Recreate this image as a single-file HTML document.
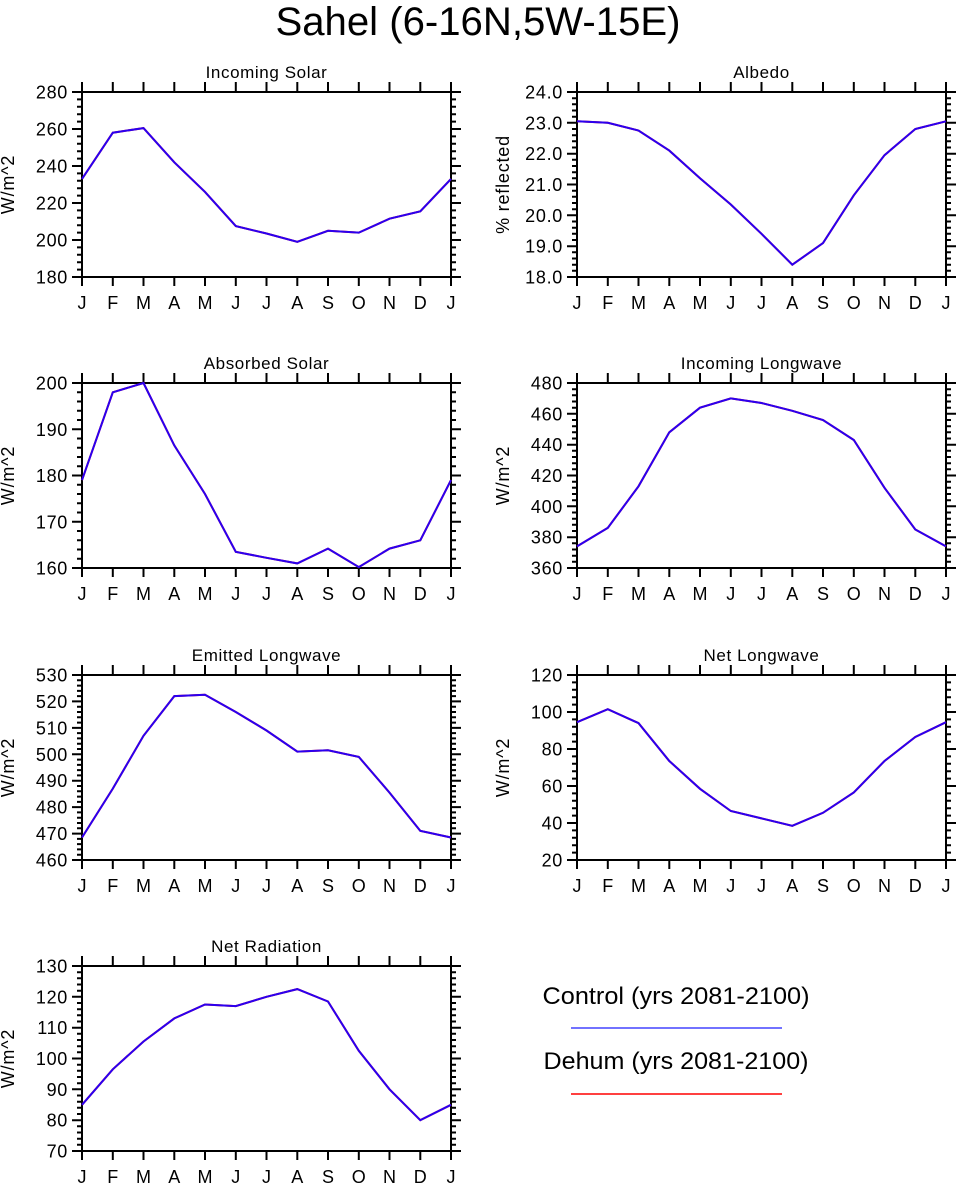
<!DOCTYPE html>
<html><head><meta charset="utf-8"><style>
html,body{margin:0;padding:0;background:#fff}
svg{display:block;font-family:"Liberation Sans",Arial,sans-serif}
</style></head><body>
<svg id="chart" width="957" height="1187" viewBox="0 0 957 1187" xmlns="http://www.w3.org/2000/svg">
<text x="478" y="35" font-size="40" text-anchor="middle" textLength="405" lengthAdjust="spacingAndGlyphs">Sahel (6-16N,5W-15E)</text>
<g>
<text x="676" y="1004" font-size="24" text-anchor="middle" textLength="267" lengthAdjust="spacingAndGlyphs">Control (yrs 2081-2100)</text>
<line x1="571" y1="1028" x2="782" y2="1028" stroke="#4444ff" stroke-width="1.5"/>
<text x="676" y="1069" font-size="24" text-anchor="middle" textLength="265" lengthAdjust="spacingAndGlyphs">Dehum (yrs 2081-2100)</text>
<line x1="571" y1="1094" x2="782" y2="1094" stroke="#ff0000" stroke-width="1.5"/>
</g>
</svg>
<script>
const months = ["J","F","M","A","M","J","J","A","S","O","N","D","J"];
const incomingSolar = [233,258,260.5,242,226,207.5,203.5,199,205,204,211.5,215.5,233];
const albedo = [23.05,23.0,22.75,22.1,21.2,20.35,19.4,18.4,19.1,20.65,21.95,22.8,23.05];
const absorbedSolar = [179,198,200,186.5,176,163.5,162.2,161,164.2,160.2,164.2,166,179];
const incomingLW = [374,386,413,448,464,470,467,462,456,443,412,385,374];
const emittedLW = [468.5,487,507,522,522.5,516,509,501,501.5,499,485.5,471,468.5];
const netLW = [94.5,101.5,94,73.5,58.5,46.5,42.5,38.5,45.5,56.5,73.5,86.5,94.5];
const netRad = [85,96.5,105.5,113,117.5,117,120,122.5,118.5,102.5,90,80,85];

const panels = [
 {name:"incoming-solar",title:"Incoming Solar",ylab:"W/m^2",data:incomingSolar,min:180,max:280,step:20,minor:4,dec:0,x:82,y:92},
 {name:"albedo",title:"Albedo",ylab:"% reflected",data:albedo,min:18,max:24,step:1,minor:0.2,dec:1,x:577,y:92},
 {name:"absorbed-solar",title:"Absorbed Solar",ylab:"W/m^2",data:absorbedSolar,min:160,max:200,step:10,minor:2,dec:0,x:82,y:383},
 {name:"incoming-longwave",title:"Incoming Longwave",ylab:"W/m^2",data:incomingLW,min:360,max:480,step:20,minor:4,dec:0,x:577,y:383},
 {name:"emitted-longwave",title:"Emitted Longwave",ylab:"W/m^2",data:emittedLW,min:460,max:530,step:10,minor:2,dec:0,x:82,y:675},
 {name:"net-longwave",title:"Net Longwave",ylab:"W/m^2",data:netLW,min:20,max:120,step:20,minor:4,dec:0,x:577,y:675},
 {name:"net-radiation",title:"Net Radiation",ylab:"W/m^2",data:netRad,min:70,max:130,step:10,minor:2,dec:0,x:82,y:966}
];
const W=369,H=185,NS="http://www.w3.org/2000/svg";
const svg=document.getElementById("chart");
function mk(tag,attrs,parent){const e=document.createElementNS(NS,tag);for(const k in attrs)e.setAttribute(k,attrs[k]);parent.appendChild(e);return e;}
panels.forEach(p=>{
 const g=mk("g",{},svg);
 
 
 const xs=i=>p.x+i*W/12;
 const ys=v=>p.y+H-(v-p.min)/(p.max-p.min)*H;
 const t=mk("text",{x:p.x+W/2,y:p.y-14,"font-size":17,"text-anchor":"middle","letter-spacing":"0.6"},g);t.textContent=p.title;
 
 
 const yl=mk("text",{x:0,y:0,"font-size":18,"text-anchor":"middle","letter-spacing":"0.8",transform:`translate(${p.x-68},${p.y+H/2}) rotate(-90)`},g);yl.textContent=p.ylab;
 
 
 let d="";
 const nmin=Math.round((p.max-p.min)/p.minor);
 for(let i=0;i<=nmin;i++){const y=ys(p.min+i*p.minor).toFixed(1);d+=`M${p.x-5},${y}H${p.x}M${p.x+W},${y}h5`;}
 const nmaj=Math.round((p.max-p.min)/p.step);
 for(let i=0;i<=nmaj;i++){const v=p.min+i*p.step,y=ys(v);d+=`M${p.x-10},${y.toFixed(1)}H${p.x}M${p.x+W},${y.toFixed(1)}h10`;
  const tl=mk("text",{x:p.x-14,y:y+6.5,"font-size":18,"text-anchor":"end","letter-spacing":"0.7"},g);tl.textContent=v.toFixed(p.dec);
  
  }
 months.forEach((m,i)=>{const x=xs(i).toFixed(1);d+=`M${x},${p.y-10}V${p.y}M${x},${p.y+H}v9`;
  const ml=mk("text",{x:xs(i),y:p.y+H+32,"font-size":18,"text-anchor":"middle"},g);ml.textContent=m;
  
  });
 const ax=mk("path",{d:d,stroke:"#000","stroke-width":2,fill:"none"},g);
 
 
 const fr=mk("rect",{x:p.x,y:p.y,width:W,height:H,fill:"none",stroke:"#000","stroke-width":2},g);
 
 
 const pts=p.data.map((v,i)=>xs(i).toFixed(1)+","+ys(v).toFixed(1)).join(" ");
 const red=mk("polyline",{points:pts,fill:"none",stroke:"#ff0000","stroke-width":2},g);
 
 
 const blue=mk("polyline",{points:pts,fill:"none",stroke:"#2a00f0","stroke-width":2},g);
 
 
});
</script>
</body></html>
